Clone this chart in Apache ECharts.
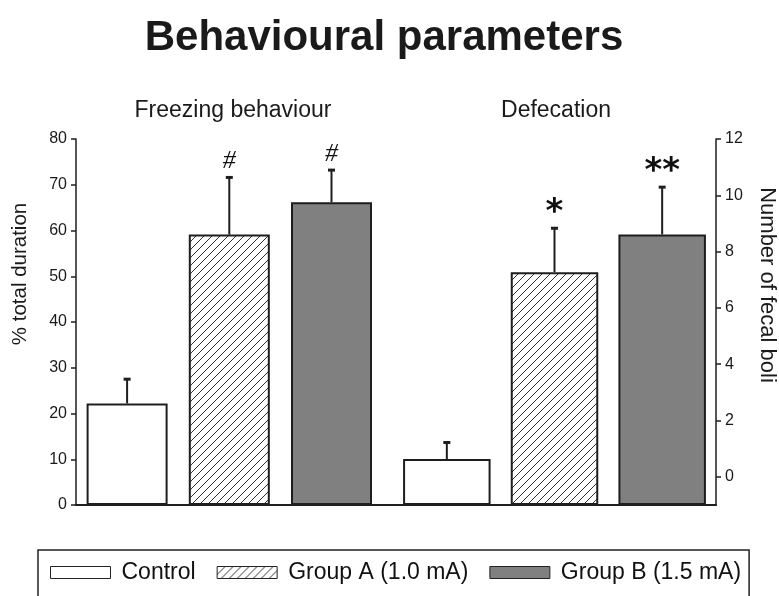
<!DOCTYPE html>
<html>
<head>
<meta charset="utf-8">
<script src="https://cdn.jsdelivr.net/npm/echarts@6/dist/echarts.min.js"></script>
<style>
html,body{margin:0;padding:0;background:#fff;}
#chart{width:779px;height:596px;}
</style>
</head>
<body>
<div id="chart"></div>
<script>
// ---- data ----
const groups = ['Control', 'Group A (1.0 mA)', 'Group B (1.5 mA)'];
const panelTitles = ['Freezing behaviour', 'Defecation'];
const axisNames = ['% total duration', 'Number of fecal boli'];
const freezingMean = [22.2, 59.1, 66.2];
const freezingSem = [5.3, 12.5, 7.0];
const defecationMean = [0.63, 7.27, 8.61];
const defecationSem = [0.59, 1.56, 1.68];
const freezingMarks = ['', '#', '#'];
const defecationMarks = ['', '*', '**'];
const fecalTicks = [0, 2, 4, 6, 8, 10, 12];

// ---- styles ----
function hatch() {
  const c = document.createElement('canvas');
  c.width = 8; c.height = 8;
  const ctx = c.getContext('2d');
  ctx.fillStyle = '#fff';
  ctx.fillRect(0, 0, 8, 8);
  ctx.strokeStyle = '#333';
  ctx.lineWidth = 1;
  ctx.beginPath();
  ctx.moveTo(-1, 9); ctx.lineTo(9, -1);
  ctx.moveTo(-1, 1); ctx.lineTo(1, -1);
  ctx.moveTo(7, 9); ctx.lineTo(9, 7);
  ctx.stroke();
  return c;
}
const border = '#1e1e1e';
const fills = [
  '#ffffff',
  { image: hatch(), repeat: 'repeat' },
  '#808080'
];
const font = 'Liberation Sans, Arial, sans-serif';

const chart = echarts.init(document.getElementById('chart'));

function barSeries(axisIdx, means, width) {
  return groups.map((g, i) => ({
    name: g,
    type: 'bar',
    xAxisIndex: axisIdx,
    yAxisIndex: axisIdx,
    barWidth: width,
    barGap: '-100%',
    data: means.map((v, j) => (j === i ? v : '-')),
    itemStyle: { color: fills[i], borderColor: border, borderWidth: 2 },
    emphasis: { disabled: true },
    z: 2
  }));
}

function errSeries(axisIdx, means, sems, marks, markFont, dy) {
  return {
    type: 'custom',
    xAxisIndex: axisIdx,
    yAxisIndex: axisIdx,
    z: 5,
    silent: true,
    encode: { x: 0, y: [1, 2] },
    data: means.map((m, j) => [j, m, m + sems[j]]),
    renderItem: function (params, api) {
      const idx = api.value(0);
      const p0 = api.coord([idx, api.value(1)]);
      const p1 = api.coord([idx, api.value(2)]);
      const children = [
        { type: 'line', shape: { x1: p0[0], y1: p0[1], x2: p1[0], y2: p1[1] },
          style: { stroke: border, lineWidth: 2 } },
        { type: 'line', shape: { x1: p1[0] - 3.5, y1: p1[1], x2: p1[0] + 3.5, y2: p1[1] },
          style: { stroke: border, lineWidth: 3 } }
      ];
      const mk = marks[params.dataIndex];
      if (mk) {
        children.push({
          type: 'text',
          style: Object.assign({ text: mk, x: p1[0], y: p1[1] + dy, align: 'center', verticalAlign: 'bottom', fill: '#111' }, markFont)
        });
      }
      return { type: 'group', children: children };
    }
  };
}

const option = {
  animation: false,
  backgroundColor: '#fff',
  textStyle: { fontFamily: font },
  grid: [
    { left: 76, top: 139, width: 306.6, height: 366 },
    { left: 393, top: 139, width: 323, height: 366 },
    { left: 76, top: 139, width: 640, height: 366 }
  ],
  xAxis: [
    { type: 'category', gridIndex: 0, data: groups, axisLine: { show: false }, axisTick: { show: false }, axisLabel: { show: false } },
    { type: 'category', gridIndex: 1, data: groups, axisLine: { show: false }, axisTick: { show: false }, axisLabel: { show: false } },
    { type: 'value', gridIndex: 2, min: 0, max: 1, axisLine: { show: true, lineStyle: { color: border, width: 2 } },
      axisTick: { show: false }, axisLabel: { show: false }, splitLine: { show: false } }
  ],
  yAxis: [
    { type: 'value', gridIndex: 0, min: 0, max: 80, interval: 10, position: 'left',
      axisLine: { show: true, lineStyle: { color: border, width: 1.5 } },
      axisTick: { show: true, inside: false, length: 5, lineStyle: { color: border, width: 1.5 } },
      axisLabel: { fontSize: 16, color: '#1a1a1a', margin: 9, fontFamily: font },
      splitLine: { show: false } },
    { type: 'value', gridIndex: 1, min: -1, max: 12, startValue: -1, position: 'right',
      axisLine: { show: true, lineStyle: { color: border, width: 1.5 } },
      axisTick: { show: true, inside: false, length: 5, customValues: fecalTicks, lineStyle: { color: border, width: 1.5 } },
      axisLabel: { fontSize: 16, color: '#1a1a1a', margin: 9, customValues: fecalTicks, fontFamily: font },
      splitLine: { show: false } },
    { type: 'value', gridIndex: 2, show: false, min: 0, max: 1 }
  ],
  legend: {
    data: groups,
    left: 38, top: 550,
    icon: 'rect',
    itemWidth: 60, itemHeight: 12, itemGap: 21,
    padding: [11, 8, 40, 12],
    borderColor: '#222', borderWidth: 1.5,
    selectedMode: false,
    itemStyle: { borderColor: '#222', borderWidth: 1 },
    textStyle: { fontSize: 23, color: '#111', fontFamily: font, padding: [0, 0, 0, 6] }
  },
  graphic: [
    { type: 'text', x: 384, y: 38, style: { text: 'Behavioural parameters', align: 'center', verticalAlign: 'middle',
      font: 'bold 42px ' + font, fill: '#1a1a1a' } },
    { type: 'text', x: 233, y: 111, style: { text: panelTitles[0], align: 'center', verticalAlign: 'middle',
      font: '23px ' + font, fill: '#1a1a1a' } },
    { type: 'text', x: 556, y: 111, style: { text: panelTitles[1], align: 'center', verticalAlign: 'middle',
      font: '23px ' + font, fill: '#1a1a1a' } },
    { type: 'text', x: 20, y: 274, rotation: Math.PI / 2, style: { text: axisNames[0], align: 'center', verticalAlign: 'middle',
      font: '20.5px ' + font, fill: '#1a1a1a' } },
    { type: 'text', x: 767, y: 285, rotation: -Math.PI / 2, style: { text: axisNames[1], align: 'center', verticalAlign: 'middle',
      font: '22px ' + font, fill: '#1a1a1a' } }
  ],
  series: [].concat(
    barSeries(0, freezingMean, 81),
    barSeries(1, defecationMean, 87.5),
    [
      errSeries(0, freezingMean, freezingSem, freezingMarks, { font: 'italic 26px "Liberation Serif", serif' }, -3),
      errSeries(1, defecationMean, defecationSem, defecationMarks, { font: 'bold 34px "DejaVu Sans", sans-serif' }, 2)
    ]
  )
};
chart.setOption(option);
</script>
</body>
</html>
